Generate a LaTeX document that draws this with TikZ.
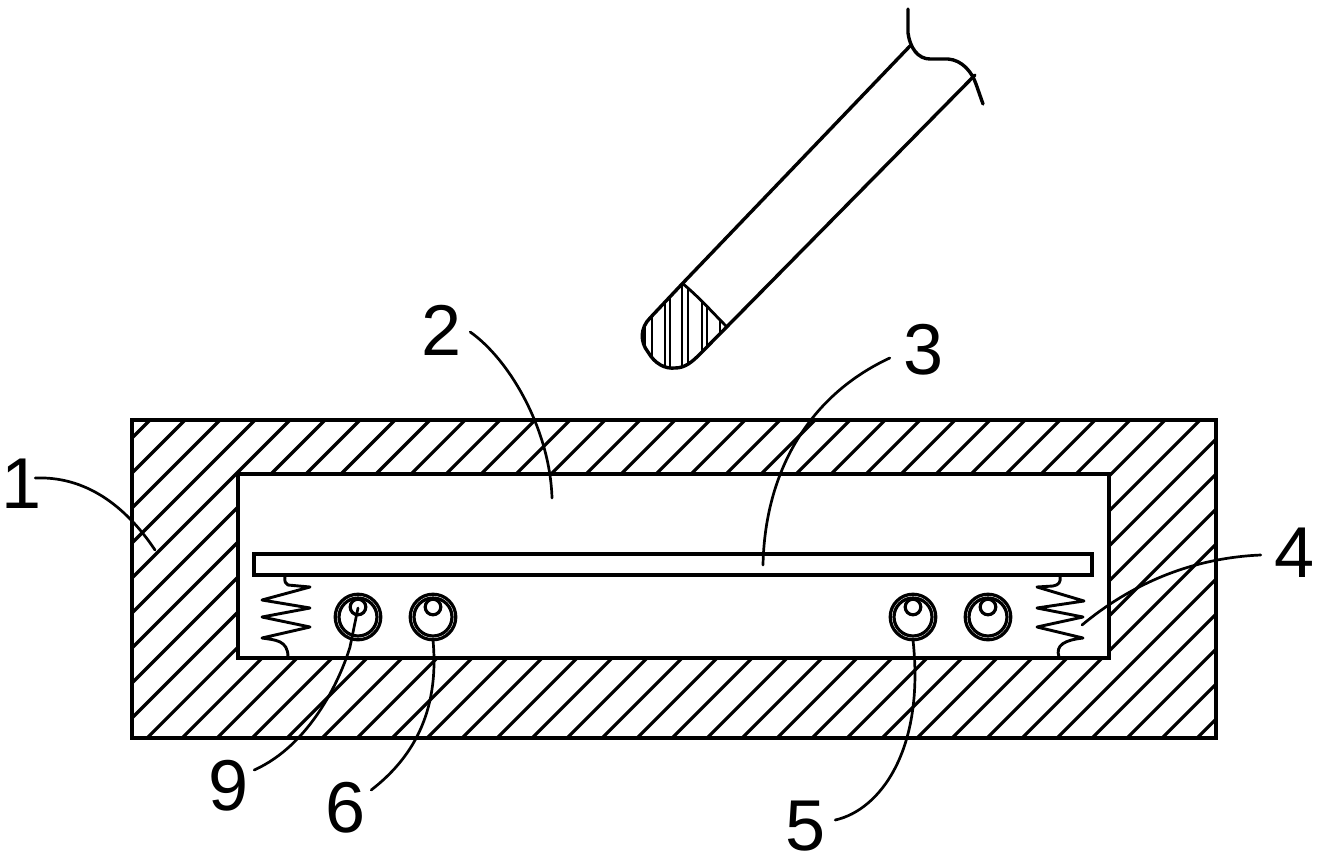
\documentclass[tikz,border=0pt]{standalone}
\usepackage{fontspec}
\setmainfont{Liberation Sans}
\begin{document}
\begin{tikzpicture}[x=1pt,y=-1pt,
  edge/.style={line width=3.4pt,black},
  thin edge/.style={line width=2.8pt,black},
  leader/.style={line width=2.7pt,black,line cap=round},
  springline/.style={line width=2.9pt,black,line join=round,line cap=round},
  num/.style={font=\fontsize{72}{72}\selectfont,inner sep=0pt,text=black},
  ring/.style={line width=3.2pt,black}]
\useasboundingbox (0,0) rectangle (1326,863);
\fill[white] (0,0) rectangle (1326,863);
% hatched body
\begin{scope}
  \clip (132,420) rectangle (1216,738);
  \foreach \k in {0,...,52} {
    \pgfmathsetmacro{\c}{570+35*\k-35}
    \draw[line width=3.2pt] (\c-760,760) -- (\c-400,400);
  }
\end{scope}
\fill[white] (238,474) rectangle (1109,658);
\draw[edge] (132,420) rectangle (1216,738);
\draw[edge] (238,474) rectangle (1109,658);
\draw[edge] (254,554) rectangle (1092,575);
% springs
\draw[springline] (285,576) .. controls (284,582) and (286,584) .. (288,585) -- (310,587) -- (262,600) -- (310,608) -- (262,617) -- (310,627) -- (262,638)
  .. controls (275,640) and (288,640) .. (288,657);
\draw[springline] (1060,576) .. controls (1061,582) and (1059,585) .. (1053,586) -- (1037,587) -- (1084,601) -- (1037,608) -- (1083,617) -- (1037,627) -- (1083,638)
  .. controls (1065,640) and (1055,645) .. (1059,657);
% rollers
\foreach \n/\x in {a/358,b/433,c/913,d/988} {
  \draw[ring] (\x,617) circle (22.8);
  \draw[ring] (\x,617) circle (19);
  \draw[ring] (\x,607) circle (7.8);
}
% pen
\draw[edge,line cap=round] (910,46) -- (682,284) -- (650,318)
  .. controls (640,328) and (640,342) .. (648,352)
  .. controls (655,364) and (665,369) .. (675,368)
  .. controls (685,368) and (692,362) .. (700,354) -- (975,75);
\begin{scope}
  \clip (682,283) -- (650,318) .. controls (640,328) and (640,342) .. (648,352)
  .. controls (655,364) and (665,369) .. (675,368)
  .. controls (685,368) and (692,362) .. (700,354) -- (726,326)
  .. controls (712,312) and (700,298) .. (682,283) -- cycle;
  \foreach \x in {643,645,652,665,670,682,688,702,707,720}
    \draw[line width=2.8pt] (\x,270) -- (\x,372);
\end{scope}
\draw[thin edge] (682,283) .. controls (700,298) and (712,312) .. (726,326);
\draw[edge,line cap=round] (908,9) -- (908,33) .. controls (910,48) and (918,59) .. (930,59)
  -- (948,59) .. controls (962,60) and (972,72) .. (976,84) -- (983,104);
% labels
\node[num] (l1) at (22,484) {1};
\node[num] (l2) at (442,330) {2};
\node[num] (l3) at (924,350) {3};
\node[num] (l4) at (1295,553) {4};
\node[num] (l5) at (806,826) {5};
\node[num] (l6) at (346,808) {6};
\node[num] (l9) at (229,786) {9};
% leader ends
\coordinate (e1) at (155,550);
\coordinate (e2) at (552,498);
\coordinate (e3) at (763,565);
\coordinate (e4) at (1082,625);
\coordinate (e5) at (913,640);
\coordinate (e6) at (433,640);
\coordinate (e9) at (358,608);
% leaders
\draw[leader] ([shift={(-7,-6)}]l1.east) .. controls (85,476) and (125,505) .. (e1);
\draw[leader] ([shift={(8,2)}]l2.east) .. controls (510,360) and (550,430) .. (e2);
\draw[leader] ([shift={(-14,8)}]l3.west) .. controls (810,395) and (765,470) .. (e3);
\draw[leader] ([shift={(-14,2)}]l4.west) .. controls (1190,558) and (1130,585) .. (e4);
\draw[leader] ([shift={(9,-6)}]l5.east) .. controls (880,810) and (925,750) .. (e5);
\draw[leader] ([shift={(5,-18)}]l6.east) .. controls (410,760) and (440,715) .. (e6);
\draw[leader] ([shift={(5,-16)}]l9.east) .. controls (310,745) and (340,680) .. (350,647) -- (e9);
\end{tikzpicture}
\end{document}
